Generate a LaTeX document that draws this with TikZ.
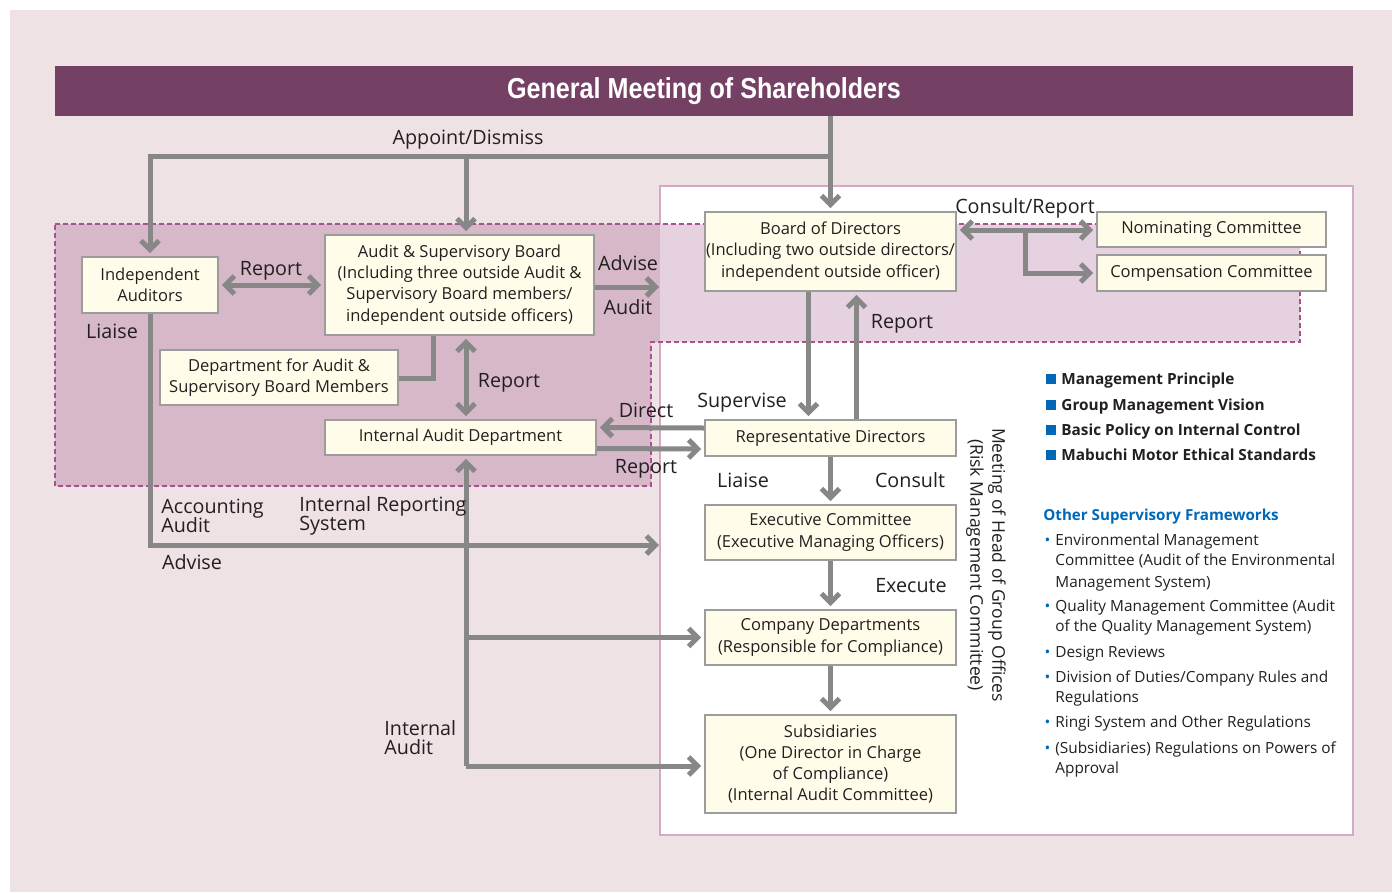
\documentclass[tikz,border=0pt]{standalone}
\usepackage{fontspec}
\setmainfont{Open Sans}
\newfontfamily\titlefont{Liberation Sans}
\usetikzlibrary{arrows.meta,positioning}
\definecolor{PageBg}{HTML}{EEE2E5}
\definecolor{MeetPurple}{HTML}{744064}
\definecolor{PanelLine}{HTML}{D4A8C8}
\definecolor{ZoneDark}{HTML}{D7B8C8}
\definecolor{ZoneLight}{HTML}{E5D1DF}
\definecolor{ZoneLine}{HTML}{A5528F}
\definecolor{ArrowGray}{HTML}{878787}
\definecolor{BoxFill}{HTML}{FFFDE9}
\definecolor{BoxLine}{HTML}{9C9C9C}
\definecolor{InkText}{HTML}{231F20}
\definecolor{MabBlue}{HTML}{0068B7}
\newcommand{\sqmark}{{\color{MabBlue}\rule{5bp}{5bp}}\hspace{2.5bp}}
\newcommand{\bulmark}{\llap{{\color{MabBlue}\textbullet}\hspace{2.5bp}}}

\begin{document}
\begin{tikzpicture}[x=0.5bp,y=-0.5bp,
bx/.style={draw=BoxLine,line width=0.8bp,fill=BoxFill,inner sep=0pt,align=center,text=InkText,font=\fontsize{8.3}{10.65}\selectfont},
lb/.style={inner sep=0pt,text=InkText,text height=7.4bp,text depth=0pt,font=\fontsize{9.9}{11}\selectfont},
lbtwo/.style={inner sep=0pt,text=InkText,align=left,anchor=west,font=\fontsize{9.9}{11}\selectfont},
vt/.style={inner sep=0pt,text=InkText,align=center,rotate=-90,font=\fontsize{8.8}{11}\selectfont},
pr/.style={inner sep=0pt,text=InkText,anchor=base west,font=\bfseries\fontsize{7.7}{9}\selectfont},
fw/.style={inner sep=0pt,text=InkText,anchor=base west,font=\fontsize{7.7}{9}\selectfont},
ar/.style={draw=ArrowGray,line width=2.5bp,shorten >=1.5bp,-{Straight Barb[length=4.5bp,width=9bp]}},
dar/.style={ar,shorten <=1.5bp,{Straight Barb[length=4.5bp,width=9bp]}-{Straight Barb[length=4.5bp,width=9bp]}},
ln/.style={draw=ArrowGray,line width=2.5bp}
]
\useasboundingbox (0,0) rectangle (1392,892);
\fill[PageBg] (10,10) rectangle (1392,892);
\node[fill=MeetPurple,minimum width=649bp,minimum height=25bp,inner sep=0pt,text=white,font=\titlefont\bfseries\fontsize{14.5}{17}\selectfont] (gm) at (704,91) {\scalebox{0.87}[1]{General Meeting of Shareholders}};
\draw[PanelLine,line width=1.2bp,fill=white] (660,186) rectangle (1353,835);
\fill[ZoneDark] (55,224) -- (660,224) -- (660,342) -- (651,342) -- (651,486) -- (55,486) -- cycle;
\fill[ZoneLight] (660,224) rectangle (1300,342);
\draw[ZoneLine,line width=1bp,dash pattern=on 2.5bp off 1.5bp] (55,224) -- (1300,224) -- (1300,342) -- (651,342) -- (651,486) -- (55,486) -- cycle;

\node[bx,minimum width=68bp,minimum height=28bp] (indep) at (150,285) {Independent\\Auditors};
\node[bx,minimum width=134.5bp,minimum height=50bp] (asb) at (459.5,285) {Audit \& Supervisory Board\\(Including three outside Audit \&\\Supervisory Board members/\\independent outside officers)};
\node[bx,minimum width=119bp,minimum height=27.5bp] (dept) at (279,377.5) {Department for Audit \&\\Supervisory Board Members};
\node[bx,minimum width=135.5bp,minimum height=17.5bp] (iad) at (460.5,437.5) {Internal Audit Department};
\node[bx,minimum width=125.5bp,minimum height=39.5bp] (bod) at (830.5,251.5) {Board of Directors\\(Including two outside directors/\\independent outside officer)};
\node[bx,minimum width=114.5bp,minimum height=17.5bp] (nom) at (1211.5,229.5) {Nominating Committee};
\node[bx,minimum width=114.5bp,minimum height=18bp] (comp) at (1211.5,273) {Compensation Committee};
\node[bx,minimum width=125.5bp,minimum height=18bp] (rep) at (830.5,438) {Representative Directors};
\node[bx,minimum width=125.5bp,minimum height=27.5bp] (exec) at (830.5,532.5) {Executive Committee\\(Executive Managing Officers)};
\node[bx,minimum width=125.5bp,minimum height=27.5bp] (cdep) at (830.5,637.5) {Company Departments\\(Responsible for Compliance)};
\node[bx,minimum width=125.5bp,minimum height=49bp] (subs) at (830.5,764) {Subsidiaries\\(One Director in Charge\\of Compliance)\\(Internal Audit Committee)};

\coordinate (ad) at (830,156);
\coordinate (adm) at (466,156);
\coordinate (pa) at (662,287);
\coordinate (pb) at (662,545);
\coordinate (dj) at (433,378);
\coordinate (ia) at (466,766);
\coordinate (cr) at (1025,230);
\draw[ar] (bod.north |- gm.south) -- (bod.north);
\draw[ar] (ad) -| (indep.north);
\draw[ar] (adm) -- (adm |- asb.north);
\draw[dar] (indep) -- (asb);
\draw[ar] (asb.east |- pa) -- (pa);
\draw[ar] (indep.south) |- (pb);
\draw[ln] (dept.east |- dj) -| (dj |- asb.south);
\draw[dar] (ia |- asb.south) -- (ia |- iad.north);
\draw[ar] (ia) -- (ia |- iad.south);
\draw[ar] (ia |- cdep.west) -- (cdep.west);
\draw[ar] (ia) -- (ia -| subs.west);
\draw[ar] ([yshift=5bp]rep.west) -- ([yshift=5bp]iad.east);
\draw[ar] ([yshift=-5.5bp]iad.east) -- ([yshift=-5.5bp]rep.west);
\draw[ar] ([xshift=-11bp]bod.south) -- ([xshift=-11bp]rep.north);
\draw[ar] ([xshift=13bp]rep.north) -- ([xshift=13bp]bod.south);
\draw[dar] (bod.east |- cr) -- (nom.west |- cr);
\draw[ar] (cr) |- (comp.west);
\draw[ar] (rep) -- (exec);
\draw[ar] (exec) -- (cdep);
\draw[ar] (cdep) -- (subs);

\node[lb] at (468,137) {Appoint/Dismiss};
\node[lb] at (271,268) {Report};
\node[lb] at (628,263) {Advise};
\node[lb] at (628,307) {Audit};
\node[lb] at (112,331) {Liaise};
\node[lb] at (509,380) {Report};
\node[lb] at (646,410) {Direct};
\node[lb] at (646,466) {Report};
\node[lb] at (742,400) {Supervise};
\node[lb] at (902,321) {Report};
\node[lb] at (1025,206) {Consult/Report};
\node[lb] at (743,480) {Liaise};
\node[lb] at (910,480) {Consult};
\node[lb] at (911,585) {Execute};
\node[lbtwo] at (161,516) {Accounting\\[-1.5bp]Audit};
\node[lbtwo] at (299,516) {Internal Reporting\\[-1.5bp]System};
\node[lb] at (192,562) {Advise};
\node[lbtwo] at (384,738) {Internal\\[-1.5bp]Audit};
\node[vt] (mhg) at (986,565) {Meeting of Head of Group Offices\\(Risk Management Committee)};

\node[pr] at (1046,384) {\sqmark Management Principle};
\node[pr] at (1046,410) {\sqmark Group Management Vision};
\node[pr] at (1046,435) {\sqmark Basic Policy on Internal Control};
\node[pr] at (1046,460) {\sqmark Mabuchi Motor Ethical Standards};
\node[pr,text=MabBlue,font=\bfseries\fontsize{7.6}{9}\selectfont] at (1043,520) {Other Supervisory Frameworks};
\node[fw] at (1055,545) {\bulmark Environmental Management};
\node[fw] at (1055,565) {Committee (Audit of the Environmental};
\node[fw] at (1055,587) {Management System)};
\node[fw] at (1055,611) {\bulmark Quality Management Committee (Audit};
\node[fw] at (1055,631) {of the Quality Management System)};
\node[fw] at (1055,657) {\bulmark Design Reviews};
\node[fw] at (1055,682) {\bulmark Division of Duties/Company Rules and};
\node[fw] at (1055,702) {Regulations};
\node[fw] at (1055,727) {\bulmark Ringi System and Other Regulations};
\node[fw] at (1055,753) {\bulmark (Subsidiaries) Regulations on Powers of};
\node[fw] at (1055,773) {Approval};
\end{tikzpicture}
\end{document}
